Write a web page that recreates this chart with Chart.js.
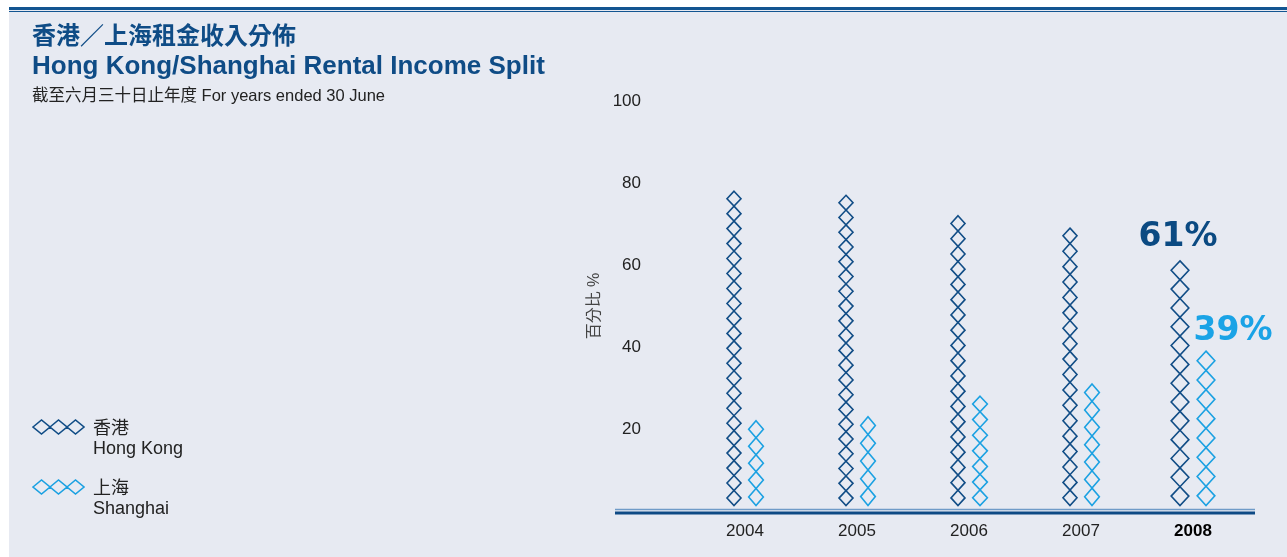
<!DOCTYPE html>
<html>
<head>
<meta charset="utf-8">
<script src="https://cdn.jsdelivr.net/npm/chart.js@4.4.1/dist/chart.umd.min.js"></script>
<style>
  body { margin: 0; width: 1287px; height: 557px; overflow: hidden; background: #fff;
         font-family: 'Liberation Sans', 'Noto Sans CJK TC', sans-serif; }
  #panel { position: absolute; left: 9px; top: 7px; right: 0; bottom: 0; background: #e7eaf2; }
  .rule1 { position: absolute; left: 9px; right: 0; top: 7px; height: 2.5px; background: #135591; }
  .rule2 { position: absolute; left: 9px; right: 0; top: 11px; height: 1.2px; background: #135591; }
  #wrap { position: absolute; left: 0; top: 0; width: 1287px; height: 557px; }
  .txt { position: absolute; white-space: nowrap; }
  .t-zh { left: 32px; top: 21px; font-size: 24px; font-weight: bold; color: #0f4c86; line-height: 30px; }
  .t-en { left: 32px; top: 49px; font-size: 26px; font-weight: bold; color: #0f4c86; line-height: 32px; }
  .sub { left: 32px; top: 85px; font-size: 16.5px; color: #222; line-height: 20px; }
  .leg { left: 32px; font-size: 18px; color: #222; line-height: 20px; }
  .leg svg { position: absolute; left: 0; }
  .leg div { position: absolute; left: 61px; }
</style>
</head>
<body>
<div id="panel"></div>
<div class="rule1"></div>
<div class="rule2"></div>
<div id="wrap"><canvas id="chart" width="1287" height="557"></canvas></div>

<div class="txt t-zh">香港／上海租金收入分佈</div>
<div class="txt t-en">Hong Kong/Shanghai Rental Income Split</div>
<div class="txt sub">截至六月三十日止年度 For years ended 30 June</div>

<div class="txt leg" style="top:418px">
  <svg width="54" height="18" viewBox="0 0 54 18" style="top:0">
    <path d="M1 9 L9.5 2 L18 9 L9.5 16 Z M18 9 L26.5 2 L35 9 L26.5 16 Z M35 9 L43.5 2 L52 9 L43.5 16 Z" fill="none" stroke="#114d86" stroke-width="1.6"/>
  </svg>
  <div style="top:0">香港</div>
  <div style="top:20px">Hong Kong</div>
</div>
<div class="txt leg" style="top:478px">
  <svg width="54" height="18" viewBox="0 0 54 18" style="top:0">
    <path d="M1 9 L9.5 2 L18 9 L9.5 16 Z M18 9 L26.5 2 L35 9 L26.5 16 Z M35 9 L43.5 2 L52 9 L43.5 16 Z" fill="none" stroke="#1ba1e2" stroke-width="1.6"/>
  </svg>
  <div style="top:0">上海</div>
  <div style="top:20px">Shanghai</div>
</div>

<script>
const years = ['2004', '2005', '2006', '2007', '2008'];
const hongKong = [78, 77, 72, 69, 61];
const shanghai = [22, 23, 28, 31, 39];
const yTicks = [20, 40, 60, 80, 100];
const highlightIndex = years.length - 1;

const FONT = "'Liberation Sans', 'Noto Sans CJK TC', sans-serif";

// diamond sizes: [normal, highlighted year]
const diamondStyle = [
  { step: [15, 19], width: [14, 17.7], shift: -2 },
  { step: [16.8, 19.4], width: [14.7, 17.7], shift: 2 },
];

const diamondPlugin = {
  id: 'diamondStacks',
  afterDatasetsDraw(chart) {
    const { ctx } = chart;
    chart.data.datasets.forEach((dataset, di) => {
      const meta = chart.getDatasetMeta(di);
      const style = diamondStyle[di];
      meta.data.forEach((bar, i) => {
        const hi = i === highlightIndex ? 1 : 0;
        const x = bar.x + (hi ? style.shift : 0);
        const base = bar.base - 5.5;
        const top = bar.y;
        const h = base - top;
        const n = Math.max(1, Math.round(h / style.step[hi]));
        const step = h / n;
        const hw = style.width[hi] / 2;
        ctx.save();
        ctx.strokeStyle = dataset.borderColor;
        ctx.lineWidth = 1.6;
        for (let k = 0; k < n; k++) {
          const cy = base - step * (k + 0.5);
          ctx.beginPath();
          ctx.moveTo(x, cy - step / 2);
          ctx.lineTo(x + hw, cy);
          ctx.lineTo(x, cy + step / 2);
          ctx.lineTo(x - hw, cy);
          ctx.closePath();
          ctx.stroke();
        }
        ctx.restore();
      });
    });

    // callouts for the latest year
    const hkBar = chart.getDatasetMeta(0).data[highlightIndex];
    const shBar = chart.getDatasetMeta(1).data[highlightIndex];
    ctx.save();
    ctx.font = "bold 33px 'DejaVu Sans'";
    ctx.textAlign = 'center';
    ctx.textBaseline = 'middle';
    ctx.fillStyle = '#0b4a82';
    ctx.fillText(`${hongKong[highlightIndex]}%`, hkBar.x - 4, hkBar.y - 23);
    ctx.fillStyle = '#1aa3e6';
    ctx.fillText(`${shanghai[highlightIndex]}%`, shBar.x + 29, shBar.y - 20);
    ctx.restore();
  },
};

const baselinePlugin = {
  id: 'baseline',
  afterDraw(chart) {
    const { ctx } = chart;
    const y0 = chart.scales.y.getPixelForValue(0);
    ctx.save();
    ctx.strokeStyle = '#6f9bc8';
    ctx.lineWidth = 1.5;
    ctx.beginPath();
    ctx.moveTo(615, y0 - 1.5);
    ctx.lineTo(1255, y0 - 1.5);
    ctx.stroke();
    ctx.strokeStyle = '#0e4a85';
    ctx.lineWidth = 3;
    ctx.beginPath();
    ctx.moveTo(615, y0 + 2);
    ctx.lineTo(1255, y0 + 2);
    ctx.stroke();
    ctx.restore();
  },
};

new Chart(document.getElementById('chart').getContext('2d'), {
  type: 'bar',
  data: {
    labels: years,
    datasets: [
      { label: '香港 Hong Kong', data: hongKong, backgroundColor: 'rgba(0,0,0,0)', borderColor: '#114d86', borderWidth: 0 },
      { label: '上海 Shanghai', data: shanghai, backgroundColor: 'rgba(0,0,0,0)', borderColor: '#1ba1e2', borderWidth: 0 },
    ],
  },
  options: {
    responsive: false,
    animation: false,
    layout: { padding: { left: 585, top: 101, right: 38, bottom: 16 } },
    datasets: { bar: { categoryPercentage: 0.393, barPercentage: 0.6 } },
    plugins: { legend: { display: false }, tooltip: { enabled: false } },
    scales: {
      x: {
        grid: { display: false, drawTicks: false },
        border: { display: false },
        afterFit: (scale) => { scale.height = 30; },
        ticks: {
          padding: 10,
          color: (c) => (c.index === highlightIndex ? '#000' : '#222'),
          font: (c) => ({ family: FONT, size: 17, weight: c.index === highlightIndex ? 'bold' : 'normal' }),
        },
      },
      y: {
        min: 0,
        max: 100,
        grid: { display: false, drawTicks: false },
        border: { display: false },
        afterFit: (scale) => {
          scale.width = 104;
          // big label gap would otherwise be reserved above/below the plot
          scale.paddingTop = 0;
          scale.paddingBottom = 0;
        },
        afterBuildTicks: (scale) => { scale.ticks = yTicks.map((v) => ({ value: v })); },
        ticks: { padding: 48, color: '#222', font: { family: FONT, size: 17 } },
        title: { display: true, text: '百分比 %', color: '#444', font: { family: FONT, size: 16 }, padding: { top: 0, bottom: 4 } },
      },
    },
  },
  plugins: [diamondPlugin, baselinePlugin],
});
</script>
</body>
</html>
